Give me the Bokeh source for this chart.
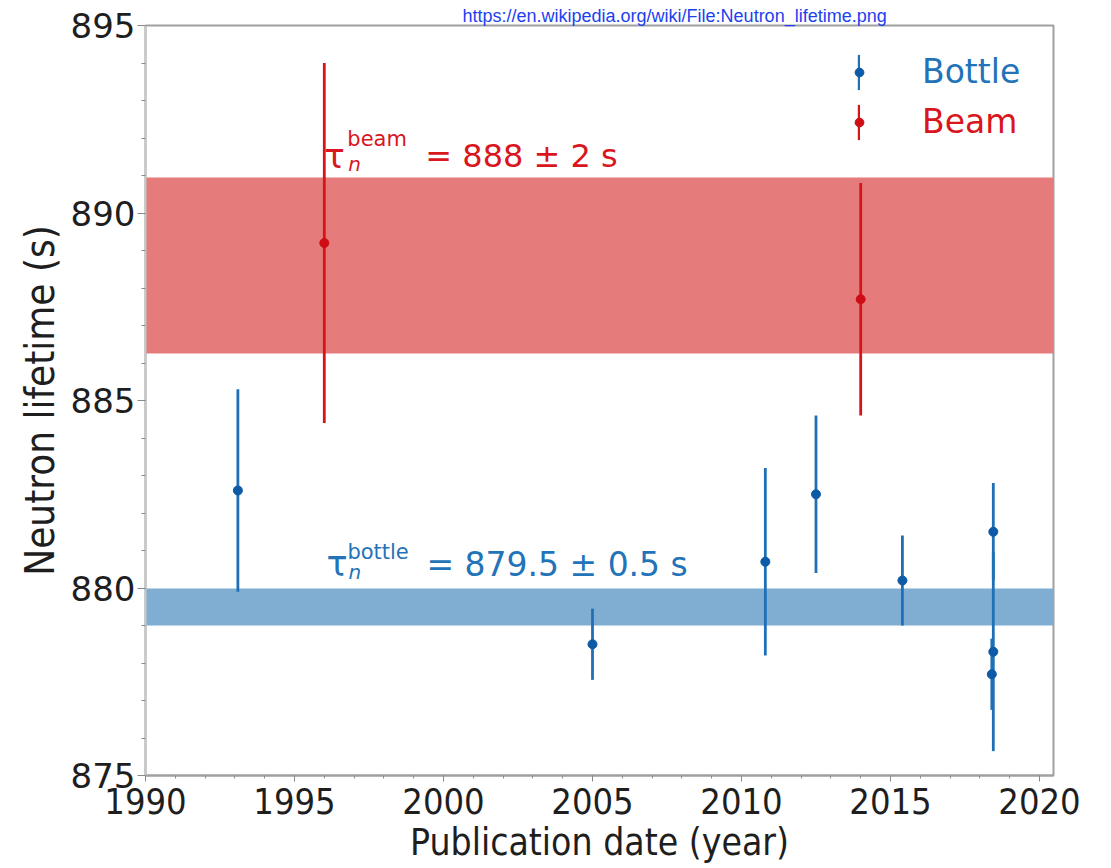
from bokeh.plotting import figure
from bokeh.models import (Range1d, SingleIntervalTicker, Label, Legend, LegendItem,
                          ColumnDataSource, Title)
from bokeh.embed import file_html
from bokeh.resources import INLINE

# ---------------- data ----------------
bottle_year = [1993.1, 2005.0, 2010.8, 2012.5, 2015.4, 2018.45, 2018.45, 2018.4]
bottle_tau = [882.6, 878.5, 880.7, 882.5, 880.2, 881.5, 878.3, 877.7]
bottle_err = [2.7, 0.95, 2.5, 2.1, 1.2, 1.3, 2.65, 0.95]

beam_year = [1996.0, 2014.0]
beam_tau = [889.2, 887.7]
beam_err = [4.8, 3.1]

bottle_band = [879.0, 880.0]
beam_band = [886.25, 890.95]

x_ticks_interval = 5
y_ticks_interval = 5

link_text = "https://en.wikipedia.org/wiki/File:Neutron_lifetime.png"

# ---------------- styles ----------------
BLUE_BAR = "#1f70b6"
BLUE_DOT = "#0d5aa7"
BLUE_TXT = "#2373b8"
BLUE_BAND = "#80aed2"
RED_BAR = "#d8141b"
RED_DOT = "#cf0d14"
RED_TXT = "#d9161e"
RED_BAND = "#e57c7b"
TICK_FONT = "DejaVu Sans"
LABEL_FONT = "DejaVu Sans Condensed"

p = figure(width=1111, height=868, output_backend="svg", toolbar_location=None,
           x_range=Range1d(1990, 2020.47), y_range=Range1d(875, 895),
           min_border_left=145, min_border_right=58, min_border_top=25,
           min_border_bottom=93)
p.title = Title(text=link_text, align="left", offset=317, standoff=0,
                text_font="Liberation Sans", text_font_size="18px",
                text_font_style="normal", text_color="#1d3ff0")
p.xgrid.visible = False
p.ygrid.visible = False
p.background_fill_color = "white"
p.border_fill_color = "white"
p.outline_line_color = "#a0a0a0"
p.outline_line_width = 2

# bands
p.hstrip(y0=[bottle_band[0]], y1=[bottle_band[1]], fill_color=BLUE_BAND,
         line_color=None)
p.hstrip(y0=[beam_band[0]], y1=[beam_band[1]], fill_color=RED_BAND,
         line_color=None)

bottle_src = ColumnDataSource(dict(
    x=bottle_year, y=bottle_tau, h=[2 * e for e in bottle_err]))
beam_src = ColumnDataSource(dict(
    x=beam_year, y=beam_tau, h=[2 * e for e in beam_err]))

bottle_bar = p.rect(x="x", y="y", width=2.8, width_units="screen", height="h",
                    source=bottle_src, fill_color=BLUE_BAR, line_color=None)
beam_bar = p.rect(x="x", y="y", width=2.8, width_units="screen", height="h",
                  source=beam_src, fill_color=RED_BAR, line_color=None)
bottle_dot = p.scatter(x="x", y="y", size=9, marker="circle", source=bottle_src,
                       fill_color=BLUE_DOT, line_color=BLUE_DOT)
beam_dot = p.scatter(x="x", y="y", size=9, marker="circle", source=beam_src,
                     fill_color=RED_DOT, line_color=RED_DOT)

# axes
for ax, interval in ((p.xaxis, x_ticks_interval), (p.yaxis, y_ticks_interval)):
    ax.ticker = SingleIntervalTicker(interval=interval, num_minor_ticks=5)
    ax.major_tick_in = 0
    ax.minor_tick_in = 0
    ax.major_label_text_color = "#1e1e1e"
    ax.axis_label_text_color = "#1e1e1e"
    ax.axis_label_text_font_style = "normal"
    ax.axis_label_text_font = LABEL_FONT

p.yaxis.major_tick_out = 8
p.yaxis.minor_tick_out = 4
p.yaxis.major_tick_line_color = "#8a8a8a"
p.yaxis.minor_tick_line_color = "#8a8a8a"
p.yaxis.axis_line_color = "#c8c8c8"
p.yaxis.axis_line_width = 2
p.yaxis.major_label_text_font = TICK_FONT
p.yaxis.major_label_text_font_size = "34px"
p.yaxis.major_label_standoff = 2
p.yaxis.axis_label = "Neutron lifetime (s)"
p.yaxis.axis_label_text_font_size = "40px"
p.yaxis.axis_label_standoff = 5

p.xaxis.major_tick_out = 6
p.xaxis.minor_tick_out = 3
p.xaxis.major_tick_line_color = "#8a8a8a"
p.xaxis.minor_tick_line_color = "#8a8a8a"
p.xaxis.axis_line_color = "#a0a0a0"
p.xaxis.axis_line_width = 2
p.xaxis.major_label_text_font = LABEL_FONT
p.xaxis.major_label_text_font_size = "36px"
p.xaxis.major_label_standoff = 6
p.xaxis.axis_label = "Publication date (year)"
p.xaxis.axis_label_text_font_size = "37px"
p.xaxis.axis_label_standoff = 4

# annotations (tau labels)
ann_x = 1996.0
beam_base = 891.53
bottle_base = 880.63


def tau_label(x, y, sup, main, color, size, main_off, sup_off, sup_rise):
    common = dict(x=x, y=y, text_color=color, text_font="DejaVu Sans",
                  text_baseline="alphabetic", text_align="left")
    p.add_layout(Label(text="τ", text_font_size=f"{size + 2}px", **common))
    p.add_layout(Label(text=sup, text_font_size="21px", x_offset=sup_off,
                       y_offset=sup_rise, **common))
    p.add_layout(Label(text="n", text_font_size="20px", text_font_style="italic",
                       x_offset=sup_off + 1, y_offset=-8, **common))
    p.add_layout(Label(text=main, text_font_size=f"{size}px", x_offset=main_off,
                       **common))


tau_label(ann_x, beam_base, "beam", "= 888 ± 2 s", RED_TXT, 32, 101, 23, 17)
tau_label(ann_x + 0.07, bottle_base, "bottle", "= 879.5 ± 0.5 s", BLUE_TXT, 33,
          100, 21, 12)

# legends (bar glyph + dot glyph layered)
leg_common = dict(padding=0, margin=0, spacing=0, border_line_alpha=0,
                  background_fill_alpha=0, label_text_font="DejaVu Sans",
                  label_text_font_size="33px", glyph_height=44, label_height=44)
leg_bottle = Legend(items=[LegendItem(label="Bottle", renderers=[bottle_bar])],
                    location=(712, 681.5), glyph_width=3, label_standoff=62,
                    label_text_color=BLUE_TXT, **leg_common)
leg_beam = Legend(items=[LegendItem(label="Beam", renderers=[beam_bar])],
                  location=(712, 631.5), glyph_width=3, label_standoff=62,
                  label_text_color=RED_TXT, **leg_common)
leg_c2 = dict(leg_common)
leg_c2["spacing"] = 6
leg_dots = Legend(items=[LegendItem(label=" ", renderers=[bottle_dot]),
                         LegendItem(label=" ", renderers=[beam_dot])],
                  location=(702.5, 631.5), glyph_width=22, label_standoff=2,
                  **leg_c2)
for lg in (leg_bottle, leg_beam, leg_dots):
    p.add_layout(lg)

open("out.html", "w").write(file_html(p, INLINE))
